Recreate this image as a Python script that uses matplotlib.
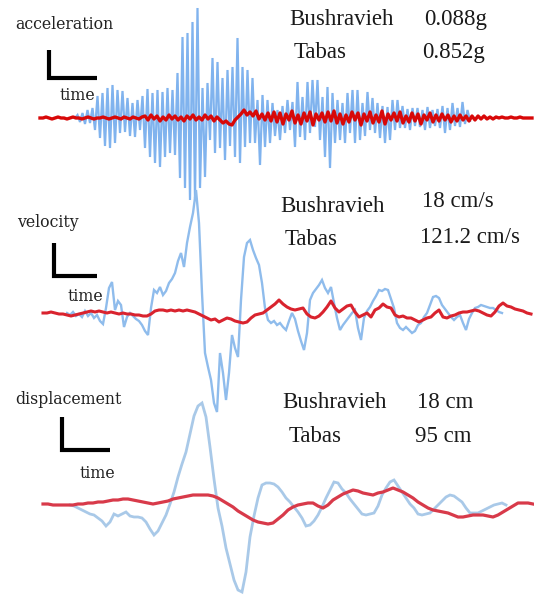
import numpy as np
import matplotlib
matplotlib.use("Agg")
import matplotlib.pyplot as plt

# ---------------- data (amplitudes, positive = up) -------------
# Acceleration, Tabas (blue)
acc_tabas = [
    0, 3, -4, 5,   -6, 8, -5, 10,   -12, 22, -20, 25,   -28, 30, -30, 33,
    -25, 28, -15, 27,   -14, 20, -18, 15,   -19, 18, -12, 22,   -30, 29, -39, 25,
    -45, 28, -49, 26,   -39, 30, -35, 28,   -37, 45, -60, 81,   -70, 85, -82, 96,
    -80, 110, -70, 30,   -59, 35, -22, 60,   -35, 56, -30, 40,   -42, 48, -28, 51,
    -39, 80, -45, 51,   -29, 48, -25, 40,   -25, 18, -47, 23,   -29, 18, -25, 15,
    -18, 8, -22, 12,   -15, 18, -12, 16,   -29, 36, -19, 21,   -22, 36, -15, 38,
    -9, 38, -22, 21,   -39, 31, -50, 25,   -25, 18, -22, 15,   -25, 25, -15, 28,
    -25, 28, -22, 15,   -18, 26, -12, 20,   -15, 15, -20, 12,   -25, 11, -22, 18,
    -12, 18, -10, 12,   -10, 9, -12, 10,   -8, 10, -9, 8,   -12, 11, -10, 8,
    -8, 9, -10, 12,   -15, 10, -12, 15,   -8, 10, -9, 16,   -6, 8, -3,
]
# Acceleration, Bushravieh (red)
acc_bush = [
    0, 0, 1, 0, -1, 0, 1, 0, 0, -1, 0, 1, 0, 0, -1, 0, 1, 0, -1, 0, 0, 1, 0, -1, 0,
    1, 0, -1, 1, 0, -1, 1, 0, -1, 1,
    2, -2, 3, -1, 2, -3, 1, -2, 3, -1, 2, -2, 1, -3, 2, -1, 3, -2, 1, -2, 3, -1, 2, -3, 1,
    -2, -5, -3, -6, -7, -2, 1, 4, 8, 3, 6, 2, 7, -1, 4, -2, 5,
    -3, 6, -4, 5, -6, 4, -2, 7, -5, 3, -6, 5, -3, 6, -7, 4, -2, 5, -4, 6, -3, 7, -5, 4,
    -6, 3, -4, 6, -2, 5, -7, 4, -3, 6, -5, 3, -4, 7, -6, 4, -2, 5, -3, 6, -5, 2, -4, 5,
    -3, 4, -6, 3, -2, 5, -4, 3, -3, 4, -2, 3, -4, 2, -3, 3, -2, 2, -3,
    2, -2, 2, -1, 2, -1, 1, -1, 1, 0, 1, 0, 0, 1, 0, 0, 1, 0, 0, 0, 0,
]
# Velocity, Tabas (blue)
vel_tabas = [
    0, -2, 1, -3, -1, -4, 2, -3, 0, -5, -2, -8, -11, 5, 25, 31, 3, 12, 8, -14,
    -4, 0, -3, -6, -8, -12, -18, -22, 5, 23, 20, 26, 18, 22, 30, 34, 40, 52, 60, 46,
    70, 86, 100, 123, 90, 20, -40, -54, -67, -90, -99, -40, -60, -87, -60, -22, -35, -44, 13, 56,
    70, 73, 63, 55, 48, 30, 5, -7, -10, -8, -12, -10, -14, -17, -8, 0, -6, -18, -28, -37,
    -20, 13, 20, 24, 28, 33, 25, 20, 26, 10, -5, -17, -12, -8, -4, 0, 3, -15, -27, -5,
    2, 6, 12, 17, 23, 22, 24, 23, 14, 5, -10, -15, -17, -14, -17, -20, -18, -12, -10, -4,
    0, 8, 16, 17, 15, 8, 4, 0, -4, -7, -4, -2, -10, -17, -6, 0, 5, 6, 8, 7,
    6, 5, 5, 3, 1, 0,
]
# Velocity, Bushravieh (red)
vel_bush = [
    0, 0, 1, 0, -1, -1, -2, -3, -2, -1, 0, 1, 2, 1, 2, 1, 0, 1, 0, -1,
    0, -1, -1, -2, -2, -3, -3, -1, 2, 3, 3, 2, 3, 2, 3, 2, 3, 2, 1, -1,
    -3, -5, -7, -6, -9, -7, -5, -6, -8, -9, -10, -9, -5, -2, -1, 0, 3, 6, 9, 13,
    9, 6, 4, 3, 4, 5, -1, -4, -5, -3, 1, 6, 12, 5, 1, 4, 7, 8, 1, -4,
    -2, 0, -4, 3, 5, 9, 6, 5, -2, -4, -3, -5, -5, -7, -9, -7, -5, -4, 0, 3,
    -4, -5, -3, -2, 0, 1, 1, 2, 3, 2, 0, -2, -3, 1, 7, 10, 7, 6, 4, 3,
    2, 0, -1,
]
# Displacement, Tabas (blue)
disp_tabas = [
    -1, -2, -4, -6, -8, -10, -11, -14, -17, -22, -18, -10, -12, -10, -8, -12, -13, -13, -14, -18,
    -25, -31, -27, -19, -11, 0, 12, 27, 40, 52, 70, 88, 98, 101, 87, 57, 25, -4, -22, -44,
    -60, -76, -86, -88, -68, -33, -12, 6, 19, 21, 21, 20, 17, 12, 6, 2, -3, -8, -14, -22,
    -21, -17, -11, -3, 6, 14, 22, 21, 15, 11, 5, 0, -5, -10, -11, -10, -9, -2, 9, 16,
    22, 24, 18, 12, 6, 0, -4, -10, -11, -10, -9, -5, -1, 3, 7, 9, 8, 5, 2, -4,
    -9, -9, -9, -7, -5, -3, -1, 0, 1, -1,
]
# Displacement, Bushravieh (red)
disp_bush = [
    0, 0, -1, -1, -1, -1, -1, 0, 0, 1, 1, 2, 2, 3, 4, 4, 5, 5, 4, 3,
    2, 1, 0, 1, 2, 3, 5, 6, 7, 8, 9, 9, 9, 9, 8, 6, 3, 0, -3, -7,
    -10, -13, -16, -18, -19, -20, -19, -15, -11, -6, -3, -1, 0, 1, 1, -2, -4, -1, 4, 7,
    10, 12, 14, 13, 11, 10, 9, 11, 12, 14, 16, 14, 12, 9, 6, 2, -1, -4, -6, -7,
    -8, -9, -11, -13, -13, -12, -11, -11, -11, -12, -13, -11, -8, -5, -2, 1, 1, 1, 0,
]

panel_names = ["acceleration", "velocity", "displacement"]
bush_peaks = ["0.088g", "18 cm/s", "18 cm"]
tabas_peaks = ["0.852g", "121.2 cm/s", "95 cm"]

# ---------------- layout / style ----------------
W, H = 534, 596
fig = plt.figure(figsize=(W / 100, H / 100), dpi=100)
ax = fig.add_axes([0, 0, 1, 1])
ax.set_xlim(0, W)
ax.set_ylim(H, 0)
ax.axis("off")

panels = [
    dict(base=118, blue=acc_tabas, bspan=(75, 470), red=acc_bush, rspan=(40, 532),
         bc="#80b3ee", bw=1.6, rc="#d80808", rw=2.4),
    dict(base=313, blue=vel_tabas, bspan=(67, 502), red=vel_bush, rspan=(43, 531),
         bc="#8fbcec", bw=1.7, rc="#d9232e", rw=2.2),
    dict(base=504, blue=disp_tabas, bspan=(70, 506), red=disp_bush, rspan=(43, 533),
         bc="#a9c9e8", bw=2.0, rc="#d83a4a", rw=2.3),
]
for p in panels:
    vb = np.asarray(p["blue"], float)
    tb = np.linspace(*p["bspan"], len(vb))
    ax.plot(tb, p["base"] - vb, color=p["bc"], lw=p["bw"], solid_joinstyle="miter", zorder=2)
    vr = np.asarray(p["red"], float)
    tr = np.linspace(*p["rspan"], len(vr))
    ax.plot(tr, p["base"] - vr, color=p["rc"], lw=p["rw"], zorder=3)

# labels and scale "L" marks
label_font = dict(family="DejaVu Serif", fontsize=11.3, color="#222222")
labels = [
    dict(name_xy=(15, 29), L=(49, 50, 97, 78), time_xy=(60, 100)),
    dict(name_xy=(17, 227), L=(54, 243, 97, 276), time_xy=(67, 301)),
    dict(name_xy=(15, 404), L=(62, 417, 110, 450), time_xy=(80, 478)),
]
for name, lab in zip(panel_names, labels):
    ax.text(*lab["name_xy"], name, ha="left", va="baseline", **label_font)
    ax.text(*lab["time_xy"], "time", ha="left", va="baseline", **label_font)
    x0, y0, x1, y1 = lab["L"]
    ax.plot([x0, x0, x1], [y0, y1, y1], color="black", lw=3.0,
            solid_joinstyle="miter", solid_capstyle="butt", zorder=4)

# peak value annotations
peak_font = dict(family="Liberation Serif", fontsize=16.5, color="#1a1a1a")
peak_pos = [
    dict(b=(289, 25), bv=(424, 25), t=(294, 58), tv=(422, 58)),
    dict(b=(280, 212), bv=(422, 207), t=(285, 245), tv=(420, 243)),
    dict(b=(282, 408), bv=(417, 408), t=(289, 442), tv=(415, 442)),
]
for pos, bv, tv in zip(peak_pos, bush_peaks, tabas_peaks):
    ax.text(*pos["b"], "Bushravieh", ha="left", va="baseline", **peak_font)
    ax.text(*pos["bv"], bv, ha="left", va="baseline", **peak_font)
    ax.text(*pos["t"], "Tabas", ha="left", va="baseline", **peak_font)
    ax.text(*pos["tv"], tv, ha="left", va="baseline", **peak_font)

fig.savefig("out.png", dpi=100)
